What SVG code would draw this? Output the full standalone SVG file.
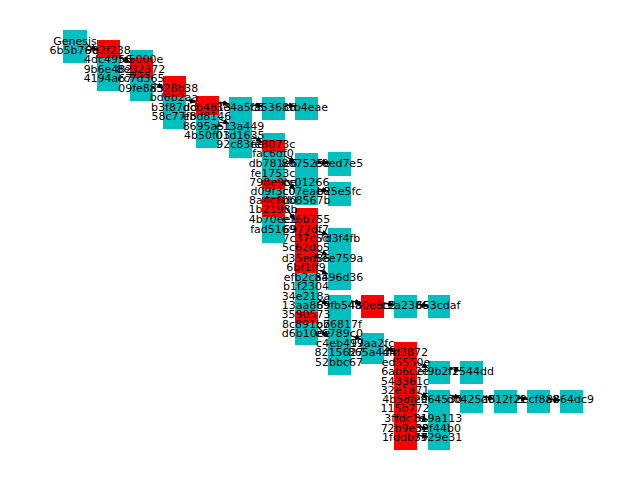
<svg xmlns="http://www.w3.org/2000/svg" width="640" height="480" viewBox="0 0 640 480">
<style>
.c{fill:#00BFBF}
.r{fill:#FF0000}
text{font-family:"DejaVu Sans","Liberation Sans",sans-serif;font-size:11px;fill:#000;text-anchor:middle;dominant-baseline:central}
.e line{stroke:#000;stroke-width:1.3;marker-end:url(#ah)}
</style>
<defs>
<marker id="ah" markerUnits="userSpaceOnUse" markerWidth="7" markerHeight="6" refX="6" refY="3" orient="auto"><path d="M0,0L6,3L0,6Z" fill="#000"/></marker>
</defs>
<rect width="640" height="480" fill="#fff"/>
<g id="connectors" class="e">
<line x1="86" y1="44" x2="97" y2="50"/>
<line x1="119" y1="56" x2="130" y2="62"/>
<line x1="152" y1="82" x2="163" y2="88"/>
<line x1="186" y1="100" x2="196" y2="102"/>
<line x1="218" y1="102" x2="229" y2="104"/>
<line x1="252" y1="105" x2="262" y2="106"/>
<line x1="285" y1="105" x2="295" y2="106"/>
<line x1="218" y1="118" x2="229" y2="124"/>
<line x1="252" y1="136" x2="262" y2="142"/>
<line x1="285" y1="156" x2="295" y2="162"/>
<line x1="318" y1="161" x2="328" y2="163"/>
<line x1="284" y1="177" x2="295" y2="190"/>
<line x1="318" y1="189" x2="328" y2="191"/>
<line x1="284" y1="205" x2="295" y2="220"/>
<line x1="318" y1="231" x2="328" y2="235"/>
<line x1="318" y1="251" x2="328" y2="255"/>
<line x1="318" y1="270" x2="328" y2="274"/>
<line x1="317" y1="299" x2="328" y2="304"/>
<line x1="317" y1="326" x2="328" y2="337"/>
<line x1="351" y1="301" x2="361" y2="303"/>
<line x1="384" y1="303" x2="394" y2="305"/>
<line x1="417" y1="304" x2="428" y2="306"/>
<line x1="351" y1="336" x2="361" y2="339"/>
<line x1="384" y1="345" x2="394" y2="352"/>
<line x1="417" y1="362" x2="428" y2="368"/>
<line x1="450" y1="368" x2="460" y2="371"/>
<line x1="417" y1="392" x2="428" y2="397"/>
<line x1="450" y1="395" x2="460" y2="398"/>
<line x1="483" y1="396" x2="494" y2="399"/>
<line x1="517" y1="398" x2="527" y2="399"/>
<line x1="550" y1="399" x2="560" y2="400"/>
<line x1="417" y1="417" x2="428" y2="420"/>
<line x1="417" y1="426" x2="428" y2="429"/>
<line x1="417" y1="435" x2="428" y2="437"/>
</g>
<g id="n-col1"><rect class="c" x="63" y="30" width="24" height="33"/></g>
<g id="n-col2a"><rect class="r" x="97" y="40" width="23" height="24"/></g>
<g id="n-col2b"><rect class="c" x="97" y="58" width="23" height="33"/></g>
<g id="n-col3a"><rect class="c" x="130" y="50" width="23" height="51"/></g>
<g id="n-col3b"><rect class="r" x="130" y="58" width="23" height="20"/></g>
<g id="n-col4a"><rect class="r" x="163" y="76" width="23" height="24"/></g>
<g id="n-col4b"><rect class="c" x="163" y="97" width="23" height="32"/></g>
<g id="n-col5a"><rect class="r" x="196" y="96" width="23" height="24"/></g>
<g id="n-col5b"><rect class="c" x="196" y="115" width="23" height="33"/></g>
<g id="n-col6"><rect class="c" x="229" y="97" width="23" height="61"/></g>
<g id="n-col7top"><rect class="c" x="262" y="97" width="23" height="23"/></g>
<g id="n-col7"><rect class="c" x="262" y="133" width="23" height="110"/><rect class="r" x="262" y="140" width="23" height="12"/><rect class="r" x="262" y="180" width="23" height="9"/><rect class="r" x="262" y="197" width="23" height="20"/></g>
<g id="n-col8top"><rect class="c" x="295" y="97" width="23" height="23"/></g>
<g id="n-col8a"><rect class="c" x="295" y="153" width="23" height="52"/></g>
<g id="n-col8b"><rect class="r" x="295" y="208" width="23" height="65"/></g>
<g id="n-col8c"><rect class="c" x="295" y="273" width="23" height="72"/><rect class="r" x="295" y="312" width="23" height="11"/></g>
<g id="n-col9a"><rect class="c" x="328" y="152" width="23" height="24"/></g>
<g id="n-col9b"><rect class="c" x="328" y="182" width="23" height="24"/></g>
<g id="n-col9c"><rect class="c" x="328" y="228" width="23" height="62"/></g>
<g id="n-col9d"><rect class="c" x="328" y="295" width="23" height="80"/></g>
<g id="n-col10a"><rect class="r" x="361" y="295" width="23" height="23"/></g>
<g id="n-col10b"><rect class="c" x="361" y="333" width="23" height="31"/></g>
<g id="n-col11a"><rect class="c" x="394" y="295" width="23" height="23"/></g>
<g id="n-col11b"><rect class="r" x="394" y="342" width="23" height="108"/></g>
<g id="n-col12a"><rect class="c" x="428" y="295" width="22" height="23"/></g>
<g id="n-col12b"><rect class="c" x="428" y="361" width="22" height="23"/></g>
<g id="n-col12c"><rect class="c" x="428" y="390" width="22" height="60"/></g>
<g id="n-col13a"><rect class="c" x="460" y="361" width="23" height="23"/></g>
<g id="n-col13b"><rect class="c" x="460" y="390" width="23" height="23"/></g>
<g id="n-col14"><rect class="c" x="494" y="390" width="23" height="23"/></g>
<g id="n-col15"><rect class="c" x="527" y="390" width="23" height="23"/></g>
<g id="n-col16"><rect class="c" x="560" y="390" width="23" height="23"/></g>
<g id="labels">
<text x="75" y="41">Genesis</text>
<text x="74" y="50">6b5b760</text>
<text x="108" y="50">9e2f238</text>
<text x="108" y="59">4dc4956</text>
<text x="108" y="69">9b6e482</text>
<text x="108" y="78">4194a67</text>
<text x="141" y="59">fc5000e</text>
<text x="141" y="69">8e32372</text>
<text x="141" y="78">cc7d365</text>
<text x="141" y="88">09fe883</text>
<text x="174" y="88">a328b38</text>
<text x="174" y="97">bd6b2aa</text>
<text x="174" y="107">b3f87dd</text>
<text x="174" y="116">58c77f8</text>
<text x="207" y="107">dcb4813</text>
<text x="207" y="116">ebd8146</text>
<text x="207" y="126">8695a51</text>
<text x="207" y="135">4b50f03</text>
<text x="240" y="107">3e4a5c8</text>
<text x="240" y="126">e13a449</text>
<text x="240" y="135">01d1635</text>
<text x="240" y="144">92c83ee</text>
<text x="273" y="107">f85368b</text>
<text x="273" y="144">fe8073c</text>
<text x="273" y="153">fac6df0</text>
<text x="273" y="163">db781e6</text>
<text x="273" y="173">fe1753c</text>
<text x="273" y="182">798e9ce</text>
<text x="273" y="191">d09f3c0</text>
<text x="273" y="200">8a4c6d0</text>
<text x="273" y="209">1b2198b</text>
<text x="273" y="219">4b70ee1</text>
<text x="273" y="229">fad5169</text>
<text x="306" y="107">cfb4eae</text>
<text x="306" y="163">867525e</text>
<text x="306" y="182">cc01266</text>
<text x="306" y="191">c07eae6</text>
<text x="306" y="200">0b8567b</text>
<text x="306" y="219">e16b755</text>
<text x="306" y="229">6977df7</text>
<text x="306" y="238">7c37c5d</text>
<text x="306" y="247">5c62db5</text>
<text x="306" y="258">d35ed86</text>
<text x="306" y="267">6bf1ff9</text>
<text x="306" y="277">efb2c8a</text>
<text x="306" y="286">b1f2304</text>
<text x="306" y="296">34e218a</text>
<text x="306" y="305">13aa869</text>
<text x="306" y="314">3590573</text>
<text x="306" y="324">8c891b7</text>
<text x="306" y="333">d6b10ee</text>
<text x="339" y="163">e0ed7e5</text>
<text x="339" y="191">b25e5fc</text>
<text x="339" y="238">7d3f4fb</text>
<text x="339" y="258">5ee759a</text>
<text x="339" y="277">a496d36</text>
<text x="339" y="305">69fb54a</text>
<text x="339" y="324">bb6817f</text>
<text x="339" y="333">e6789c0</text>
<text x="340" y="343">c4eb497</text>
<text x="339" y="352">8215627</text>
<text x="339" y="362">52bbc67</text>
<text x="372" y="305">480e8c2</text>
<text x="372" y="343">19aa2fc</text>
<text x="372" y="352">865a4d4</text>
<text x="405" y="305">c2a2386</text>
<text x="405" y="352">4fd3872</text>
<text x="406" y="362">ed5550e</text>
<text x="405" y="371">6ab6c2e</text>
<text x="405" y="381">543361c</text>
<text x="405" y="390">32e1a71</text>
<text x="405" y="399">4b58f2e</text>
<text x="405" y="408">115b772</text>
<text x="405" y="418">3ffdc1d</text>
<text x="405" y="428">72b9e32</text>
<text x="405" y="437">1fddb57</text>
<text x="438" y="305">653cdaf</text>
<text x="438" y="371">ef9b2f7</text>
<text x="438" y="399">e964530</text>
<text x="438" y="418">819a113</text>
<text x="438" y="428">32f44b0</text>
<text x="438" y="437">7329e31</text>
<text x="471" y="371">f2544dd</text>
<text x="471" y="399">d0425a6</text>
<text x="504" y="399">d812f22</text>
<text x="537" y="399">2ecf8a8</text>
<text x="570" y="399">8864dc9</text>
</g>
</svg>
